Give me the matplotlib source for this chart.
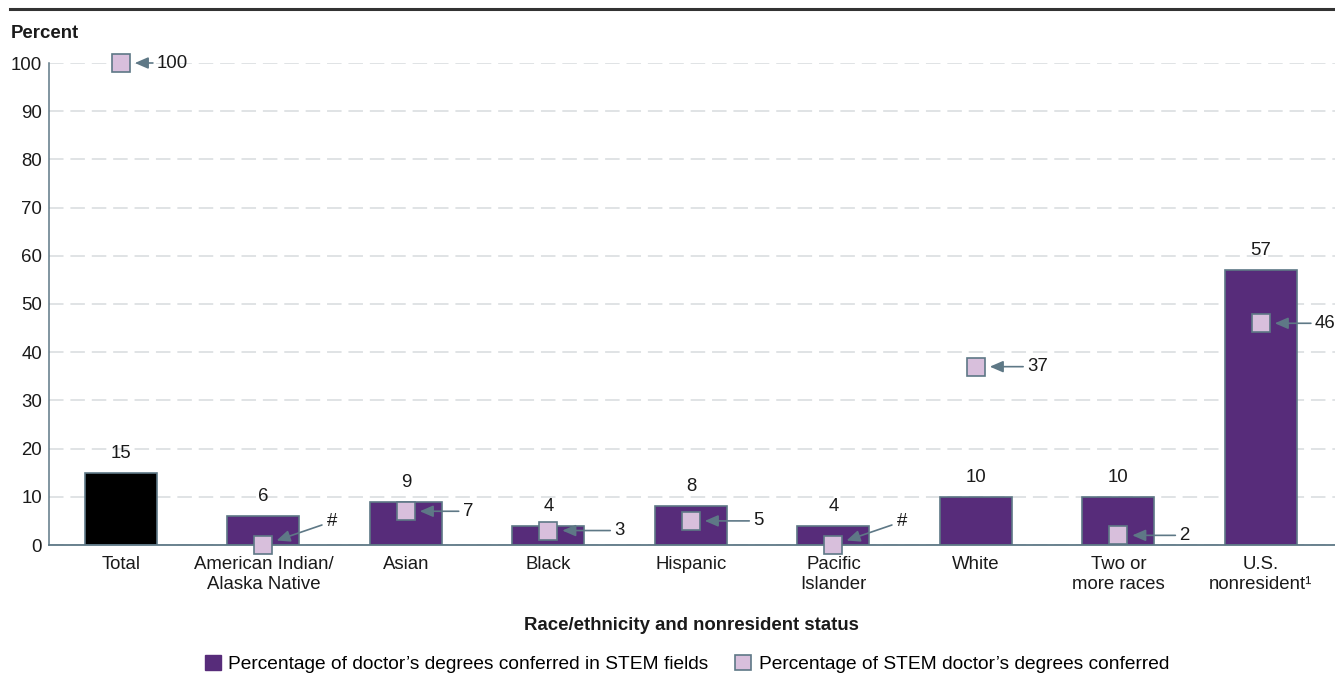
import matplotlib
matplotlib.use("Agg")
import matplotlib.pyplot as plt
from matplotlib.lines import Line2D
from matplotlib.patches import Patch

plt.rcParams['font.family'] = ['Liberation Sans', 'DejaVu Sans']

categories = ["Total", "American Indian/\nAlaska Native", "Asian", "Black", "Hispanic",
              "Pacific\nIslander", "White", "Two or\nmore races", "U.S.\nnonresident\u00b9"]
stem_share = [15, 6, 9, 4, 8, 4, 10, 10, 57]          # % of doctor's degrees in STEM fields
stem_distribution = [100, 0, 7, 3, 5, 0, 37, 2, 46]    # % of STEM doctor's degrees conferred
distribution_labels = ["100", "#", "7", "3", "5", "#", "37", "2", "46"]

PURPLE = "#572C7A"
LILAC = "#D8BFDC"
EDGE = "#5E7886"
GRID = "#D7DBDE"
TXT = "#1a1a1a"
FS = 13.4

fig = plt.figure(figsize=(13.35, 6.79), dpi=100)
ax = fig.add_axes([49 / 1335, 1 - 545 / 679, 1 - 49 / 1335, (545 - 63) / 679])

x = list(range(len(categories)))
bar_colors = ["#000000"] + [PURPLE] * (len(categories) - 1)
ax.bar(x, stem_share, width=0.505, color=bar_colors, edgecolor=EDGE, linewidth=1.2, zorder=3)

for xi, v in zip(x, stem_share):
    ax.annotate(f"{v}", (xi, v), xytext=(0, 8), textcoords="offset points",
                ha="center", va="bottom", fontsize=FS, color=TXT)

# squares with arrowed value labels
label_dx = [26, 46, 41, 47.5, 45, 46, 37, 44, 39]   # horizontal text offset in points
for xi, v, lab, dx in zip(x, stem_distribution, distribution_labels, label_dx):
    ax.plot(xi, v, marker="s", markersize=12.5, markerfacecolor=LILAC,
            markeredgecolor=EDGE, markeredgewidth=1.2, zorder=5, clip_on=False)
    dy = 17 if lab == "#" else 0
    ax.annotate(lab, (xi, v), xytext=(dx, dy), textcoords="offset points",
                ha="left", va="center", fontsize=FS, color=TXT,
                arrowprops=dict(arrowstyle="-|>,head_length=0.6,head_width=0.26",
                                color=EDGE, lw=1.2, shrinkA=2 if dy else 1, shrinkB=10),
                zorder=6, annotation_clip=False)

ax.set_xlim(-0.505, 8.52)
ax.set_ylim(0, 100)
ax.set_yticks(range(0, 101, 10))
ax.yaxis.grid(True, color=GRID, linestyle=(0, (9.5, 4.5)), linewidth=1.1, zorder=0)
ax.set_axisbelow(True)
ax.tick_params(axis="y", length=0, pad=5, labelsize=FS, labelcolor=TXT)
ax.set_xticks(x)
ax.set_xticklabels(categories, fontsize=FS, color=TXT, linespacing=1.25)
ax.tick_params(axis="x", length=0, pad=8)
for side in ["top", "right"]:
    ax.spines[side].set_visible(False)
ax.spines["left"].set_color(EDGE)
ax.spines["left"].set_linewidth(1.1)
ax.spines["bottom"].set_color(EDGE)
ax.spines["bottom"].set_linewidth(1.3)
ax.spines["bottom"].set_zorder(4)

fig.text(11 / 1335, 1 - 33 / 679, "Percent", fontsize=FS, fontweight="bold",
         ha="left", va="center", color=TXT)
fig.text(0.5 + 24 / 1335, 1 - 626 / 679, "Race/ethnicity and nonresident status",
         fontsize=FS, fontweight="bold", ha="center", va="center", color=TXT)

# rule across the top of the figure
fig.add_artist(Line2D([10 / 1335, 1.0], [1 - 9 / 679, 1 - 9 / 679], color="#333333",
                      linewidth=2.2, transform=fig.transFigure))

handles = [Patch(facecolor=PURPLE, edgecolor=PURPLE),
           Patch(facecolor=LILAC, edgecolor=EDGE, linewidth=1.2)]
labels = ["Percentage of doctor\u2019s degrees conferred in STEM fields",
          "Percentage of STEM doctor\u2019s degrees conferred"]
fig.legend(handles, labels, loc="center", bbox_to_anchor=(687 / 1335, 1 - 664 / 679),
           ncol=2, frameon=False, fontsize=13.8, handlelength=0.83, handleheight=0.83,
           handletextpad=0.4, columnspacing=1.4)

fig.savefig("out.png", dpi=100)
